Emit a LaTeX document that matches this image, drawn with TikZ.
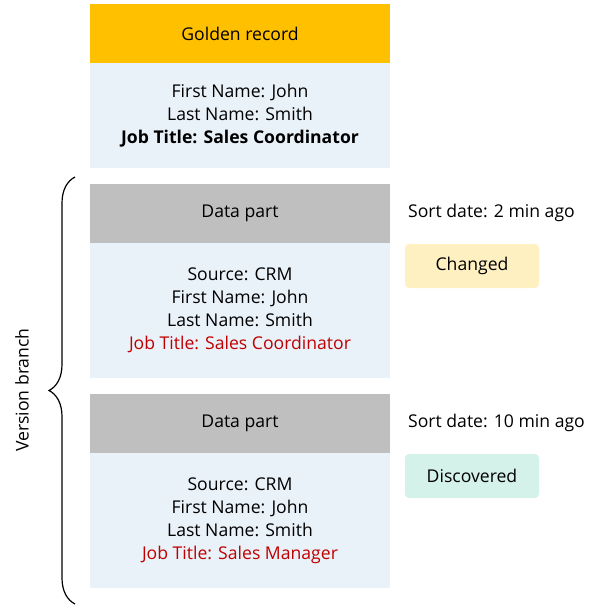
\documentclass[tikz,border=0pt]{standalone}
\usepackage{fontspec}
\setmainfont{Open Sans}
\usepackage{tikz}
\usetikzlibrary{decorations.pathreplacing}

\definecolor{golden}{HTML}{FFC000}
\definecolor{recbody}{HTML}{E9F1F9}
\definecolor{partgray}{HTML}{BFBFBF}
\definecolor{changedbg}{HTML}{FFF0C2}
\definecolor{discbg}{HTML}{D4F1EA}
\definecolor{jobred}{HTML}{C00000}

\tikzset{
  header/.style={minimum width=300pt,minimum height=59pt,inner sep=0pt,font=\fontsize{17.6}{23}\selectfont},
  recbox/.style={fill=recbody,minimum width=300pt,inner sep=0pt,align=center,font=\fontsize{17.6}{23}\selectfont},
  tagbox/.style={rounded corners=4pt,minimum width=134pt,minimum height=44pt,inner sep=0pt,font=\fontsize{17.6}{23}\selectfont},
  plain/.style={inner sep=0pt,font=\fontsize{17.6}{23}\selectfont}
}

\begin{document}
\begin{tikzpicture}[x=1pt,y=-1pt]
\useasboundingbox (0,0) rectangle (589,608);

% golden record
\node[header,fill=golden] (goldhead) at (240,33.5) {Golden record};
\node[recbox,minimum height=105pt] (goldbody) at (240,115.5) {First Name: John\\Last Name: Smith\\\textbf{Job Title: Sales Coordinator}};

% first data part
\node[header,fill=partgray] (parthead1) at (240,213.5) {Data part};
\node[recbox,minimum height=135pt] (partbody1) at (240,310.5) {Source: CRM\\First Name: John\\Last Name: Smith\\\textcolor{jobred}{Job Title: Sales Coordinator}};
\node[plain,anchor=west] (sort1) at (408,213) {Sort date: 2 min ago};
\node[tagbox,fill=changedbg] (changed) at (472,266) {Changed};

% second data part
\node[header,fill=partgray] (parthead2) at (240,423.5) {Data part};
\node[recbox,minimum height=135pt] (partbody2) at (240,520.5) {Source: CRM\\First Name: John\\Last Name: Smith\\\textcolor{jobred}{Job Title: Sales Manager}};
\node[plain,anchor=west] (sort2) at (408,423) {Sort date: 10 min ago};
\node[tagbox,fill=discbg] (discovered) at (472,476) {Discovered};

% version branch
\coordinate (bracebot) at (75,604);
\coordinate (bracetop) at (75,177);
\draw[line width=1.2pt,decorate,decoration={brace,amplitude=26pt}] (bracebot) -- (bracetop);
\node[plain,rotate=90] (branch) at (22,390) {Version branch};
\end{tikzpicture}
\end{document}
